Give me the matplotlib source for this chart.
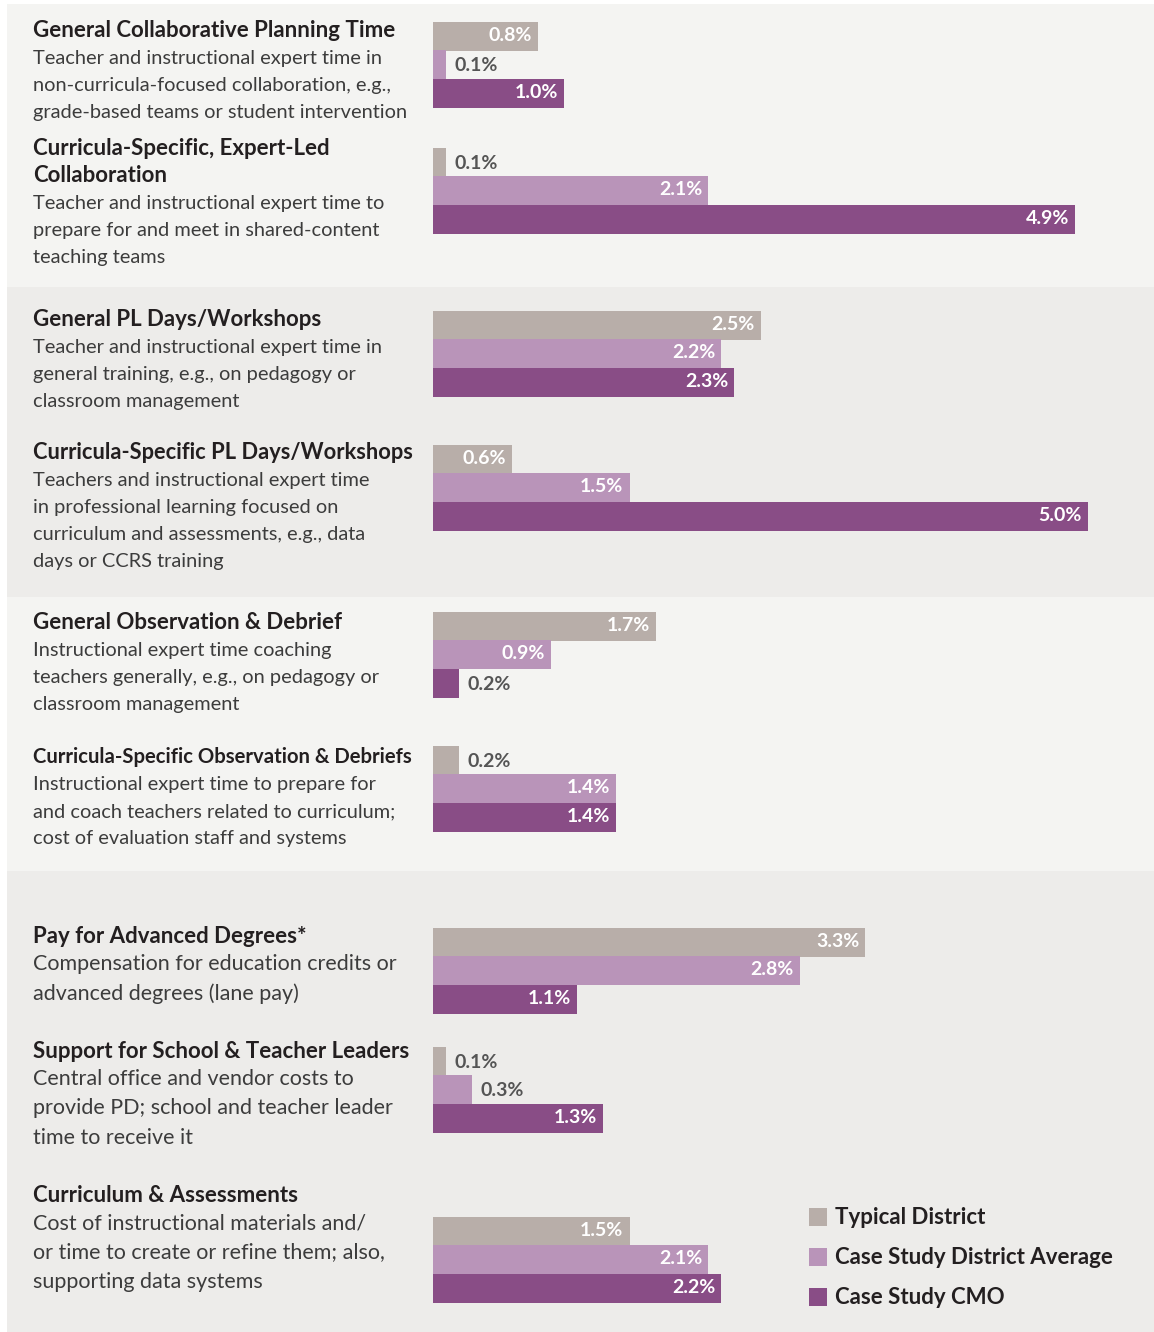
import matplotlib.pyplot as plt
from matplotlib.patches import Rectangle

plt.rcParams['font.family'] = ['Lato', 'DejaVu Sans']

# ---- data ----
titles = [
    ['General Collaborative Planning Time'],
    ['Curricula-Specific, Expert-Led', 'Collaboration'],
    ['General PL Days/Workshops'],
    ['Curricula-Specific PL Days/Workshops'],
    ['General Observation & Debrief'],
    ['Curricula-Specific Observation & Debriefs'],
    ['Pay for Advanced Degrees*'],
    ['Support for School & Teacher Leaders'],
    ['Curriculum & Assessments'],
]
descriptions = [
    ['Teacher and instructional expert time in', 'non-curricula-focused collaboration, e.g.,',
     'grade-based teams or student intervention'],
    ['Teacher and instructional expert time to', 'prepare for and meet in shared-content', 'teaching teams'],
    ['Teacher and instructional expert time in', 'general training, e.g., on pedagogy or',
     'classroom management'],
    ['Teachers and instructional expert time', 'in professional learning focused on',
     'curriculum and assessments, e.g., data', 'days or CCRS training'],
    ['Instructional expert time coaching', 'teachers generally, e.g., on pedagogy or',
     'classroom management'],
    ['Instructional expert time to prepare for', 'and coach teachers related to curriculum;',
     'cost of evaluation staff and systems'],
    ['Compensation for education credits or', 'advanced degrees (lane pay)'],
    ['Central office and vendor costs to', 'provide PD; school and teacher leader', 'time to receive it'],
    ['Cost of instructional materials and/', 'or time to create or refine them; also,',
     'supporting data systems'],
]
series_names = ['Typical District', 'Case Study District Average', 'Case Study CMO']
typical = [0.8, 0.1, 2.5, 0.6, 1.7, 0.2, 3.3, 0.1, 1.5]
district = [0.1, 2.1, 2.2, 1.5, 0.9, 1.4, 2.8, 0.3, 2.1]
cmo = [1.0, 4.9, 2.3, 5.0, 0.2, 1.4, 1.1, 1.3, 2.2]

# ---- layout (pixels) ----
W, H = 1154, 1332
colors = ['#b8aea9', '#b994b9', '#894d86']
panel_colors = ['#f4f4f2', '#edecea', '#f4f4f2', '#edecea']
panel_edges = [4, 287, 597, 871, 1332]
group_tops = [22, 148, 311, 445, 612, 746, 928, 1047, 1217]
title_base = [37, 155, 326, 459, 629, 763, 943, 1058, 1202]
line_gap = [27, 27, 27, 27, 27, 27, 29.5, 29.5, 29.5]
body_size = [14.4, 14.4, 14.4, 14.4, 14.4, 14.4, 15.5, 15.5, 15.5]
bar_h = 28.5
bar_x0 = 433
px_per_pct = 131
text_max_w = 380

fig = plt.figure(figsize=(W / 100, H / 100), dpi=100)
fig.patch.set_facecolor('white')
renderer = fig.canvas.get_renderer()

bg = fig.add_axes([0, 0, 1, 1])
bg.set_xlim(0, W)
bg.set_ylim(H, 0)
bg.axis('off')
for i, c in enumerate(panel_colors):
    bg.add_patch(Rectangle((7, panel_edges[i]), W - 7, panel_edges[i + 1] - panel_edges[i],
                           facecolor=c, edgecolor='none'))

# left-hand text
for i in range(len(titles)):
    y = title_base[i]
    for line in titles[i]:
        t = bg.text(33, y, line, fontsize=16, fontweight='bold', color='#231f20', va='baseline')
        w = t.get_window_extent(renderer).width
        if w > text_max_w:
            # squeeze long headings so they stay left of the bars
            t.set_fontsize(16 * text_max_w / w)
        y += 27
    for line in descriptions[i]:
        bg.text(33, y, line, fontsize=body_size[i], color='#3c3c3c', va='baseline')
        y += line_gap[i]

# bars
ax = fig.add_axes([bar_x0 / W, 0, (W - bar_x0) / W, 1])
ax.set_xlim(0, (W - bar_x0) / px_per_pct)
ax.set_ylim(H, 0)
ax.axis('off')
ax.patch.set_alpha(0)

for j, vals in enumerate([typical, district, cmo]):
    ys = [t + j * bar_h + bar_h / 2 for t in group_tops]
    ax.barh(ys, vals, height=bar_h + 0.6, color=colors[j], edgecolor='none')
    for y, v in zip(ys, vals):
        lab = f'{v:.1f}%'
        if v >= 0.5:
            ax.annotate(lab, (v, y), xytext=(-6, 1), textcoords='offset pixels',
                        ha='right', va='center', fontsize=14, fontweight='bold', color='white')
        else:
            ax.annotate(lab, (v, y), xytext=(8, -1), textcoords='offset pixels',
                        ha='left', va='center', fontsize=14, fontweight='bold', color='#555555')

# legend
for j, name in enumerate(series_names):
    y = 1217 + j * 40
    bg.add_patch(Rectangle((809, y - 9), 18, 18, facecolor=colors[j], edgecolor='none'))
    bg.text(835, y, name, fontsize=16, fontweight='bold', color='#231f20', va='center')

fig.savefig('out.png', dpi=100, facecolor='white')
